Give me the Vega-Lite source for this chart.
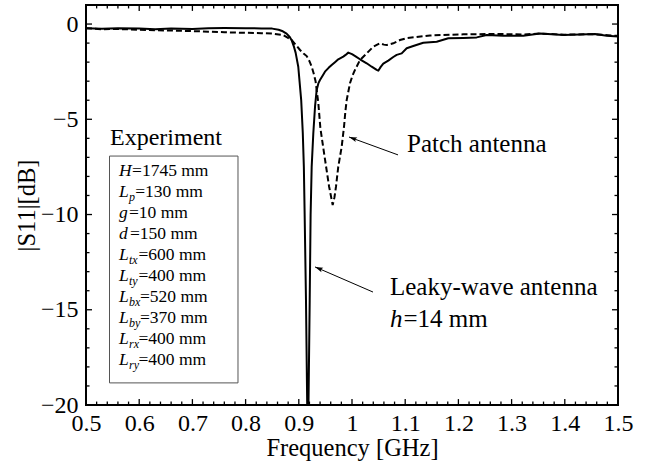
{
  "$schema": "https://vega.github.io/schema/vega-lite/v6.json",
  "width": 532,
  "height": 400,
  "autosize": "none",
  "padding": {"left": 86, "top": 5, "right": 37, "bottom": 61},
  "background": "white",
  "config": {
    "view": {"stroke": "black", "strokeWidth": 2},
    "axis": {
      "domain": false, "grid": false, "ticks": false,
      "labelFont": "Liberation Serif", "titleFont": "Liberation Serif",
      "labelColor": "black", "titleColor": "black", "titleFontWeight": "normal",
      "labelOverlap": false, "labelFlush": false
    }
  },
  "datasets": {
    "leaky": [
      {"freq":0.50,"s11":-0.22},{"freq":0.53,"s11":-0.25},{"freq":0.56,"s11":-0.22},{"freq":0.60,"s11":-0.24},
      {"freq":0.63,"s11":-0.27},{"freq":0.66,"s11":-0.24},{"freq":0.70,"s11":-0.26},{"freq":0.73,"s11":-0.22},
      {"freq":0.76,"s11":-0.21},{"freq":0.80,"s11":-0.22},{"freq":0.83,"s11":-0.23},{"freq":0.85,"s11":-0.24},
      {"freq":0.862,"s11":-0.30},{"freq":0.870,"s11":-0.38},{"freq":0.877,"s11":-0.50},{"freq":0.883,"s11":-0.68},
      {"freq":0.887,"s11":-0.88},{"freq":0.891,"s11":-1.2},{"freq":0.894,"s11":-1.5},{"freq":0.899,"s11":-2.24},
      {"freq":0.9045,"s11":-3.99},{"freq":0.9075,"s11":-5.72},{"freq":0.9095,"s11":-7.5},{"freq":0.911,"s11":-10.0},
      {"freq":0.9135,"s11":-14.5},{"freq":0.9158,"s11":-20.0},{"freq":0.917,"s11":-21.0},{"freq":0.9182,"s11":-20.0},
      {"freq":0.9205,"s11":-14.5},{"freq":0.9222,"s11":-10.0},{"freq":0.9242,"s11":-7.5},{"freq":0.9273,"s11":-5.72},
      {"freq":0.9305,"s11":-4.34},{"freq":0.9336,"s11":-3.46},{"freq":0.937,"s11":-3.1},{"freq":0.9398,"s11":-2.94},
      {"freq":0.945,"s11":-2.7},{"freq":0.9492,"s11":-2.50},{"freq":0.956,"s11":-2.30},{"freq":0.9618,"s11":-2.15},
      {"freq":0.968,"s11":-2.0},{"freq":0.9742,"s11":-1.85},{"freq":0.9836,"s11":-1.71},{"freq":0.988,"s11":-1.62},
      {"freq":0.993,"s11":-1.50},{"freq":1.000,"s11":-1.58},{"freq":1.006,"s11":-1.68},{"freq":1.015,"s11":-1.85},
      {"freq":1.0276,"s11":-2.06},{"freq":1.037,"s11":-2.24},{"freq":1.0464,"s11":-2.41},{"freq":1.0494,"s11":-2.45},
      {"freq":1.054,"s11":-2.25},{"freq":1.0588,"s11":-2.08},{"freq":1.0682,"s11":-1.92},{"freq":1.0776,"s11":-1.73},
      {"freq":1.084,"s11":-1.62},{"freq":1.0934,"s11":-1.54},{"freq":1.1028,"s11":-1.27},{"freq":1.1152,"s11":-1.15},
      {"freq":1.134,"s11":-0.98},{"freq":1.1592,"s11":-0.93},{"freq":1.181,"s11":-0.75},{"freq":1.2092,"s11":-0.73},
      {"freq":1.2344,"s11":-0.70},{"freq":1.2532,"s11":-0.58},{"freq":1.2844,"s11":-0.61},{"freq":1.322,"s11":-0.61},
      {"freq":1.3534,"s11":-0.50},{"freq":1.3972,"s11":-0.58},{"freq":1.4286,"s11":-0.55},{"freq":1.4568,"s11":-0.52},
      {"freq":1.4788,"s11":-0.62},{"freq":1.50,"s11":-0.66}
    ],
    "patch": [
      {"freq":0.50,"s11":-0.22},{"freq":0.53,"s11":-0.27},{"freq":0.56,"s11":-0.26},{"freq":0.60,"s11":-0.30},
      {"freq":0.63,"s11":-0.33},{"freq":0.66,"s11":-0.34},{"freq":0.70,"s11":-0.37},{"freq":0.73,"s11":-0.40},
      {"freq":0.76,"s11":-0.43},{"freq":0.80,"s11":-0.46},{"freq":0.83,"s11":-0.48},{"freq":0.85,"s11":-0.50},
      {"freq":0.871,"s11":-0.58},{"freq":0.8867,"s11":-0.84},{"freq":0.893,"s11":-1.05},{"freq":0.9023,"s11":-1.36},
      {"freq":0.909,"s11":-1.55},{"freq":0.9148,"s11":-1.68},{"freq":0.920,"s11":-1.95},{"freq":0.9242,"s11":-2.24},
      {"freq":0.928,"s11":-2.6},{"freq":0.9315,"s11":-3.0},{"freq":0.9367,"s11":-4.15},{"freq":0.9405,"s11":-5.45},
      {"freq":0.9476,"s11":-6.8},{"freq":0.957,"s11":-8.54},{"freq":0.9637,"s11":-9.50},{"freq":0.967,"s11":-9.1},
      {"freq":0.9699,"s11":-8.54},{"freq":0.9742,"s11":-7.49},{"freq":0.9806,"s11":-6.44},{"freq":0.985,"s11":-5.39},
      {"freq":0.9875,"s11":-4.6},{"freq":0.990,"s11":-3.99},{"freq":0.9962,"s11":-3.11},{"freq":1.001,"s11":-2.70},
      {"freq":1.0056,"s11":-2.41},{"freq":1.015,"s11":-1.89},{"freq":1.0276,"s11":-1.54},{"freq":1.040,"s11":-1.19},
      {"freq":1.0526,"s11":-1.01},{"freq":1.060,"s11":-1.08},{"freq":1.0652,"s11":-1.10},{"freq":1.0776,"s11":-1.01},
      {"freq":1.0902,"s11":-0.84},{"freq":1.1028,"s11":-0.74},{"freq":1.1466,"s11":-0.60},{"freq":1.2092,"s11":-0.54},
      {"freq":1.272,"s11":-0.52},{"freq":1.322,"s11":-0.55},{"freq":1.3534,"s11":-0.50},{"freq":1.40,"s11":-0.56},
      {"freq":1.45,"s11":-0.53},{"freq":1.50,"s11":-0.62}
    ],
    "xmajor": [{"v":0.5},{"v":0.6},{"v":0.7},{"v":0.8},{"v":0.9},{"v":1.0},{"v":1.1},{"v":1.2},{"v":1.3},{"v":1.4},{"v":1.5}],
    "xminor": [
      {"v":0.52},{"v":0.54},{"v":0.56},{"v":0.58},{"v":0.62},{"v":0.64},{"v":0.66},{"v":0.68},
      {"v":0.72},{"v":0.74},{"v":0.76},{"v":0.78},{"v":0.82},{"v":0.84},{"v":0.86},{"v":0.88},
      {"v":0.92},{"v":0.94},{"v":0.96},{"v":0.98},{"v":1.02},{"v":1.04},{"v":1.06},{"v":1.08},
      {"v":1.12},{"v":1.14},{"v":1.16},{"v":1.18},{"v":1.22},{"v":1.24},{"v":1.26},{"v":1.28},
      {"v":1.32},{"v":1.34},{"v":1.36},{"v":1.38},{"v":1.42},{"v":1.44},{"v":1.46},{"v":1.48}
    ],
    "ymajor": [{"v":-20},{"v":-15},{"v":-10},{"v":-5},{"v":0}],
    "yminor": [
      {"v":-19},{"v":-18},{"v":-17},{"v":-16},{"v":-14},{"v":-13},{"v":-12},{"v":-11},
      {"v":-9},{"v":-8},{"v":-7},{"v":-6},{"v":-4},{"v":-3},{"v":-2},{"v":-1}
    ],
    "box": [{"f0":0.5442,"f1":0.7857,"d0":-6.93,"d1":-18.84}],
    "heading": [{"t":"Experiment","f":0.5451,"db":-6.35}],
    "italic": [
      {"t":"H","f":0.562,"db":-7.976},{"t":"L","f":0.562,"db":-9.079},{"t":"g","f":0.562,"db":-10.181},
      {"t":"d","f":0.562,"db":-11.283},{"t":"L","f":0.562,"db":-12.386},{"t":"L","f":0.562,"db":-13.488},
      {"t":"L","f":0.562,"db":-14.591},{"t":"L","f":0.562,"db":-15.693},{"t":"L","f":0.562,"db":-16.795},
      {"t":"L","f":0.562,"db":-17.898}
    ],
    "subs": [
      {"t":"p","f":0.5808,"db":-9.079},{"t":"tx","f":0.5808,"db":-12.386},{"t":"ty","f":0.5808,"db":-13.488},
      {"t":"bx","f":0.5808,"db":-14.591},{"t":"by","f":0.5808,"db":-15.693},{"t":"rx","f":0.5808,"db":-16.795},
      {"t":"ry","f":0.5808,"db":-17.898}
    ],
    "roman": [
      {"t":"=1745 mm","f":0.5865,"db":-7.976},{"t":"=130 mm","f":0.5925,"db":-9.079},
      {"t":"=10 mm","f":0.5808,"db":-10.181},{"t":"=150 mm","f":0.5827,"db":-11.283},
      {"t":"=600 mm","f":0.5985,"db":-12.386},{"t":"=400 mm","f":0.5985,"db":-13.488},
      {"t":"=520 mm","f":0.6015,"db":-14.591},{"t":"=370 mm","f":0.6015,"db":-15.693},
      {"t":"=400 mm","f":0.5985,"db":-16.795},{"t":"=400 mm","f":0.5985,"db":-17.898}
    ],
    "labels": [
      {"t":"Patch antenna","f":1.1034,"db":-6.72},
      {"t":"Leaky-wave antenna","f":1.0714,"db":-14.22},
      {"t":"=14 mm","f":1.0968,"db":-15.90}
    ],
    "labelsItalic": [{"t":"h","f":1.0714,"db":-15.90}],
    "arrows": [
      {"name":"patch","f":1.0865,"db":-6.87,"f2":0.9944,"db2":-5.93},
      {"name":"leaky","f":1.0395,"db":-14.07,"f2":0.9305,"db2":-12.75}
    ]
  },
  "layer": [
    {
      "data": {"name": "leaky"},
      "mark": {"type": "line", "color": "black", "strokeWidth": 2, "clip": true, "strokeJoin": "round"},
      "encoding": {
        "x": {"field": "freq", "type": "quantitative", "scale": {"domain": [0.5, 1.5], "nice": false, "zero": false},
          "axis": {"orient": "bottom", "values": [0.5,0.6,0.7,0.8,0.9,1,1.1,1.2,1.3,1.4,1.5], "format": "~g",
            "labelPadding": 6, "labelFontSize": 24,
            "title": "Frequency [GHz]", "titleFontSize": 24.5, "titlePadding": 1}},
        "y": {"field": "s11", "type": "quantitative", "scale": {"domain": [-20, 1], "nice": false, "zero": false},
          "axis": {"orient": "left", "values": [-20,-15,-10,-5,0],
            "labelPadding": 8, "labelFontSize": 24, "title": "|S11|[dB]", "titleFontSize": 24.5, "titlePadding": 1}}
      }
    },
    {
      "data": {"name": "patch"},
      "mark": {"type": "line", "color": "black", "strokeWidth": 2, "strokeDash": [6, 3], "clip": true},
      "encoding": {
        "x": {"field": "freq", "type": "quantitative"},
        "y": {"field": "s11", "type": "quantitative"}
      }
    },
    {
      "data": {"name": "xmajor"},
      "mark": {"type": "rule", "color": "black", "strokeWidth": 1.3},
      "encoding": {"x": {"field": "v", "type": "quantitative"}, "y": {"datum": -20}, "y2": {"datum": -19.69}}
    },
    {
      "data": {"name": "xminor"},
      "mark": {"type": "rule", "color": "black", "strokeWidth": 1.3},
      "encoding": {"x": {"field": "v", "type": "quantitative"}, "y": {"datum": -20}, "y2": {"datum": -19.82}}
    },
    {
      "data": {"name": "xmajor"},
      "mark": {"type": "rule", "color": "black", "strokeWidth": 1.3},
      "encoding": {"x": {"field": "v", "type": "quantitative"}, "y": {"datum": 1}, "y2": {"datum": 0.69}}
    },
    {
      "data": {"name": "xminor"},
      "mark": {"type": "rule", "color": "black", "strokeWidth": 1.3},
      "encoding": {"x": {"field": "v", "type": "quantitative"}, "y": {"datum": 1}, "y2": {"datum": 0.82}}
    },
    {
      "data": {"name": "ymajor"},
      "mark": {"type": "rule", "color": "black", "strokeWidth": 1.3},
      "encoding": {"y": {"field": "v", "type": "quantitative"}, "x": {"datum": 0.5}, "x2": {"datum": 0.5113}}
    },
    {
      "data": {"name": "yminor"},
      "mark": {"type": "rule", "color": "black", "strokeWidth": 1.3},
      "encoding": {"y": {"field": "v", "type": "quantitative"}, "x": {"datum": 0.5}, "x2": {"datum": 0.5066}}
    },
    {
      "data": {"name": "ymajor"},
      "mark": {"type": "rule", "color": "black", "strokeWidth": 1.3},
      "encoding": {"y": {"field": "v", "type": "quantitative"}, "x": {"datum": 1.5}, "x2": {"datum": 1.4887}}
    },
    {
      "data": {"name": "yminor"},
      "mark": {"type": "rule", "color": "black", "strokeWidth": 1.3},
      "encoding": {"y": {"field": "v", "type": "quantitative"}, "x": {"datum": 1.5}, "x2": {"datum": 1.4934}}
    },
    {
      "data": {"name": "box"},
      "mark": {"type": "rect", "filled": false, "color": "#555555", "strokeWidth": 1},
      "encoding": {
        "x": {"field": "f0", "type": "quantitative"},
        "x2": {"field": "f1"},
        "y": {"field": "d0", "type": "quantitative"},
        "y2": {"field": "d1"}
      }
    },
    {
      "data": {"name": "heading"},
      "mark": {"type": "text", "align": "left", "baseline": "alphabetic", "fontSize": 24, "font": "Liberation Serif", "color": "black"},
      "encoding": {
        "x": {"field": "f", "type": "quantitative"},
        "y": {"field": "db", "type": "quantitative"},
        "text": {"field": "t"}
      }
    },
    {
      "data": {"name": "italic"},
      "mark": {"type": "text", "align": "left", "baseline": "alphabetic", "fontSize": 17.5, "fontStyle": "italic", "font": "Liberation Serif", "color": "black"},
      "encoding": {
        "x": {"field": "f", "type": "quantitative"},
        "y": {"field": "db", "type": "quantitative"},
        "text": {"field": "t"}
      }
    },
    {
      "data": {"name": "subs"},
      "mark": {"type": "text", "align": "left", "baseline": "alphabetic", "fontSize": 12, "fontStyle": "italic", "dy": 4, "font": "Liberation Serif", "color": "black"},
      "encoding": {
        "x": {"field": "f", "type": "quantitative"},
        "y": {"field": "db", "type": "quantitative"},
        "text": {"field": "t"}
      }
    },
    {
      "data": {"name": "roman"},
      "mark": {"type": "text", "align": "left", "baseline": "alphabetic", "fontSize": 17.5, "font": "Liberation Serif", "color": "black"},
      "encoding": {
        "x": {"field": "f", "type": "quantitative"},
        "y": {"field": "db", "type": "quantitative"},
        "text": {"field": "t"}
      }
    },
    {
      "data": {"name": "labels"},
      "mark": {"type": "text", "align": "left", "baseline": "alphabetic", "fontSize": 25, "font": "Liberation Serif", "color": "black"},
      "encoding": {
        "x": {"field": "f", "type": "quantitative"},
        "y": {"field": "db", "type": "quantitative"},
        "text": {"field": "t"}
      }
    },
    {
      "data": {"name": "labelsItalic"},
      "mark": {"type": "text", "align": "left", "baseline": "alphabetic", "fontSize": 25, "fontStyle": "italic", "font": "Liberation Serif", "color": "black"},
      "encoding": {
        "x": {"field": "f", "type": "quantitative"},
        "y": {"field": "db", "type": "quantitative"},
        "text": {"field": "t"}
      }
    },
    {
      "data": {"name": "arrows"},
      "mark": {"type": "rule", "color": "black", "strokeWidth": 1},
      "encoding": {
        "x": {"field": "f", "type": "quantitative"},
        "y": {"field": "db", "type": "quantitative"},
        "x2": {"field": "f2"},
        "y2": {"field": "db2"}
      }
    },
    {
      "data": {"name": "arrows"},
      "transform": [{"filter": "datum.name === 'patch'"}],
      "mark": {"type": "point", "shape": "M0,0 L0.3,1 L0,0.8 L-0.3,1 Z", "size": 256, "angle": 290, "filled": true, "color": "black", "opacity": 1},
      "encoding": {
        "x": {"field": "f2", "type": "quantitative"},
        "y": {"field": "db2", "type": "quantitative"}
      }
    },
    {
      "data": {"name": "arrows"},
      "transform": [{"filter": "datum.name === 'leaky'"}],
      "mark": {"type": "point", "shape": "M0,0 L0.3,1 L0,0.8 L-0.3,1 Z", "size": 256, "angle": 293, "filled": true, "color": "black", "opacity": 1},
      "encoding": {
        "x": {"field": "f2", "type": "quantitative"},
        "y": {"field": "db2", "type": "quantitative"}
      }
    }
  ]
}
